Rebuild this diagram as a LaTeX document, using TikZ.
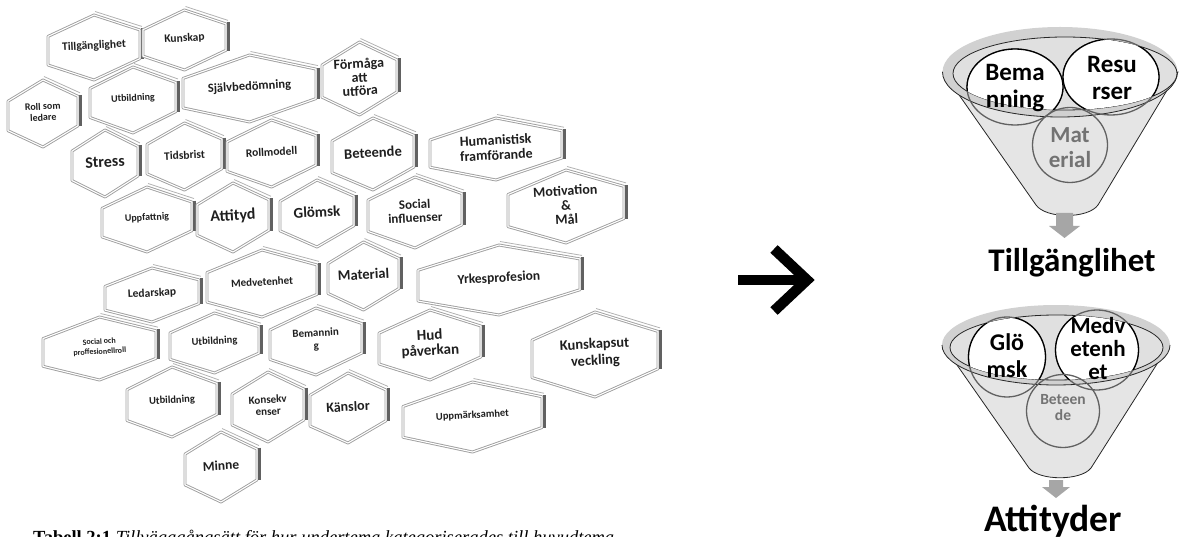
\documentclass[tikz,border=0pt]{standalone}
\usepackage{fontspec}
\setmainfont{Liberation Serif}
\newfontfamily\carlito{Carlito}
\tikzset{
  hexframe/.style={fill=white,draw=black!38,line width=0.9pt,double=white,double distance=1.1pt,line join=round},
  hexedge/.style={draw=black!30,line width=0.8pt},
  hexbar/.style={draw=black!62,line width=3.2pt},
  hexlabel/.style={align=center,inner sep=0pt,rotate=3,text=black!88},
  funnelbody/.style={fill=black!10,draw=black!85,line width=0.8pt},
  rimouter/.style={fill=black!18},
  rimline/.style={draw=black!85,line width=0.8pt},
  bubblegray/.style={draw=black!62,line width=1.3pt},
  bubbleblack/.style={fill=white,draw=black,line width=1.3pt},
  bubbletext/.style={align=center,inner sep=0pt,font={\carlito\bfseries\fontsize{25}{27}\selectfont}},
  downarrow/.style={fill=black!35},
  bigtitle/.style={inner sep=0pt,font={\carlito\bfseries\fontsize{33}{36}\selectfont}}
}
\newcommand{\hexbox}[8]{%
  \pgfmathsetmacro\hcx{(#2+#3)/2}%
  \pgfmathsetmacro\hcy{(#4+#5)/2-1.5}%
  \pgfmathsetmacro\ha{0.28*(#5-#4)}%
  \pgfmathsetmacro\hk{0.035*(#3-#2)}%
  \pgfmathsetmacro\yA{#4+\ha-\hk}%
  \pgfmathsetmacro\yB{#5-\ha-\hk}%
  \pgfmathsetmacro\yC{#5-\ha+\hk}%
  \pgfmathsetmacro\yD{#4+\ha+\hk}%
  \draw[hexedge] (\hcx+1,#4-3.5) -- (#3+2,\yA-3.5);
  \draw[hexframe] (\hcx,#4) -- (#3,\yA) -- (#3,\yB) -- (\hcx,#5) -- (#2,\yC) -- (#2,\yD) -- cycle;
  \draw[hexbar] (#3+2.6,\yA-1.5) -- (#3+2.6,\yB+0.5);
  \node[hexlabel,font={\carlito\bfseries\fontsize{#6}{#7}\selectfont}] (#1) at (\hcx,\hcy) {#8};
}
\begin{document}
\begin{tikzpicture}[x=1pt,y=-1pt]
\useasboundingbox (0,0) rectangle (1180,537);
% ---------------- hexagons ----------------
\hexbox{hTill}{48}{140}{15}{80}{11.5}{12}{Tillgänglighet}
\hexbox{hKun}{143}{226}{10}{70}{11.5}{12}{Kunskap}
\hexbox{hSjalv}{183}{316}{55}{122}{12.5}{13}{Självbedömning}
\hexbox{hForm}{322}{397}{42}{115}{14}{13.5}{Förmåga\\att\\utföra}
\hexbox{hRoll}{8}{78}{80}{147}{10}{11}{Roll som\\ledare}
\hexbox{hUtbA}{90}{176}{67}{133}{10}{11}{Utbildning}
\hexbox{hStress}{72}{138}{130}{197}{16}{16}{Stress}
\hexbox{hTids}{147}{222}{123}{190}{11.5}{12}{Tidsbrist}
\hexbox{hRollm}{227}{316}{120}{187}{11.5}{12}{Rollmodell}
\hexbox{hBet}{332}{414}{118}{190}{14.5}{14}{Beteende}
\hexbox{hHum}{430}{562}{118}{180}{14}{15}{Humanistisk\\framförande}
\hexbox{hMot}{508}{624}{170}{243}{14}{14.5}{Motivation\\\&\\Mål}
\hexbox{hSoc}{368}{462}{177}{248}{13}{13.5}{Social\\influenser}
\hexbox{hUppf}{102}{192}{187}{252}{10}{11}{Uppfattnig}
\hexbox{hAtt}{197}{269}{183}{252}{16}{16}{Attityd}
\hexbox{hGlom}{280}{354}{180}{247}{15}{15}{Glömsk}
\hexbox{hLed}{105}{199}{268}{322}{11.5}{12}{Ledarskap}
\hexbox{hMedv}{207}{317}{250}{317}{11}{12}{Medvetenhet}
\hexbox{hMat}{328}{399}{242}{310}{14.5}{14}{Material}
\hexbox{hYrk}{418}{580}{245}{315}{13.5}{14}{Yrkesprofesion}
\hexbox{hSocP}{43}{156}{317}{380}{8}{10}{Social och\\proffesionellroll}
\hexbox{hUtbB}{170}{259}{313}{373}{10.5}{11}{Utbildning}
\hexbox{hBem}{270}{362}{308}{375}{11}{12.5}{Bemannin\\g}
\hexbox{hHud}{379}{481}{310}{380}{15}{15.5}{Hud\\påverkan}
\hexbox{hKunU}{532}{658}{312}{397}{14.5}{16.5}{Kunskapsut\\veckling}
\hexbox{hUppm}{403}{542}{382}{452}{10.5}{11}{Uppmärksamhet}
\hexbox{hUtbC}{127}{217}{367}{437}{10.5}{11}{Utbildning}
\hexbox{hKons}{232}{304}{372}{442}{11}{12}{Konsekv\\enser}
\hexbox{hKans}{310}{386}{373}{443}{14}{14}{Känslor}
\hexbox{hMinne}{185}{257}{432}{502}{13.5}{14}{Minne}
% caption
\node[anchor=base west,inner sep=0pt,font={\fontsize{18.5}{20}\selectfont}] (cap) at (33,543.5)
  {\textbf{Tabell 2:1} \textit{Tillvägagångsätt för hur undertema kategoriserades till huvudtema}};
% ---------------- big arrow ----------------
\coordinate (arS) at (738,280);
\coordinate (arT) at (807,280);
\draw[line width=10.5pt] (arS) -- (arT);
\draw[line width=10.5pt,line join=miter,miter limit=4] (774,249) -- (arT) -- (774,311);
% ---------------- funnel 1 ----------------
\path[funnelbody] (943,72) -- (1036,205) .. controls (1046,219) and (1088,219) .. (1098,205) -- (1178,72) -- cycle;
\fill[rimouter] (1060,72) ellipse (117.5 and 45);
\draw[rimline] (942.5,72) arc[start angle=180,end angle=0,x radius=117.5,y radius=45];
\filldraw[fill=black!12,draw=black!85,line width=0.8pt] (1065,73.5) ellipse (112 and 36.5);
\draw[bubblegray] (1015,87) ellipse (48 and 38);
\draw[bubblegray] (1111,77) ellipse (48 and 38);
\begin{scope}
  \clip (1065,73.5) ellipse (112 and 36.5);
  \draw[bubbleblack] (1015,87) ellipse (48 and 38);
  \draw[bubbleblack] (1111,77) ellipse (48 and 38);
\end{scope}
\draw[bubblegray] (1070,145) circle (37.5);
\node[bubbletext] (fBem) at (1015,88) {Bema\\nning};
\node[bubbletext] (fRes) at (1112,78) {Resu\\rser};
\node[bubbletext,text=black!55,font={\carlito\bfseries\fontsize{23}{25}\selectfont}] (fMat) at (1070,148) {Mat\\erial};
\fill[downarrow] (1056,213) -- (1073,213) -- (1073,226) -- (1080,226) -- (1064.5,238) -- (1049,226) -- (1056,226) -- cycle;
\node[bigtitle] (tTill) at (1072,263) {Tillgänglihet};
% ---------------- funnel 2 ----------------
\path[funnelbody] (943,345) -- (1029,468) .. controls (1039,481) and (1081,481) .. (1091,468) -- (1169,345) -- cycle;
\fill[rimouter] (1056,345) ellipse (114 and 40);
\draw[rimline] (942,345) arc[start angle=180,end angle=0,x radius=114,y radius=40];
\filldraw[fill=black!12,draw=black!85,line width=0.8pt] (1056.5,347.5) ellipse (106.5 and 32.5);
\draw[bubblegray] (1007,357) ellipse (38.5 and 40);
\draw[bubblegray] (1097,350) ellipse (41.5 and 40);
\begin{scope}
  \clip (1056.5,347.5) ellipse (106.5 and 32.5);
  \draw[bubbleblack] (1007,357) ellipse (38.5 and 40);
  \draw[bubbleblack] (1097,350) ellipse (41.5 and 40);
\end{scope}
\draw[bubblegray] (1063,411) circle (36.5);
\node[bubbletext,font={\carlito\bfseries\fontsize{24}{27}\selectfont}] (fGlo) at (1007,356) {Glö\\msk};
\node[bubbletext,font={\carlito\bfseries\fontsize{23}{23}\selectfont}] (fMed) at (1098,349) {Medv\\etenh\\et};
\node[bubbletext,text=black!55,font={\carlito\bfseries\fontsize{15.5}{16}\selectfont}] (fBet) at (1063,408) {Beteen\\de};
\fill[downarrow] (1049,480) -- (1063,480) -- (1063,487) -- (1070,487) -- (1056,498) -- (1042,487) -- (1049,487) -- cycle;
\node[anchor=base,inner sep=0pt,font={\carlito\bfseries\fontsize{37.5}{40}\selectfont}] (tAtt) at (1053,531) {Attityder};
\end{tikzpicture}
\end{document}
